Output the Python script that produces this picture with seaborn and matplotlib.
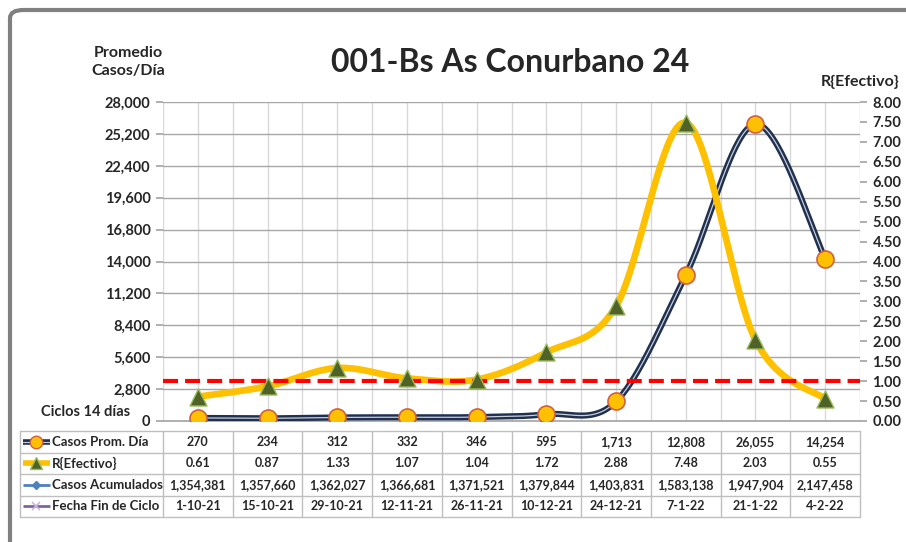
import numpy as np
import pandas as pd
import matplotlib
matplotlib.use("Agg")
import matplotlib.pyplot as plt
import seaborn as sns
from matplotlib.patches import FancyBboxPatch

# ---------------- data ----------------
fechas = ["1-10-21", "15-10-21", "29-10-21", "12-11-21", "26-11-21",
          "10-12-21", "24-12-21", "7-1-22", "21-1-22", "4-2-22"]
casos_prom = [270, 234, 312, 332, 346, 595, 1713, 12808, 26055, 14254]
r_efectivo = [0.61, 0.87, 1.33, 1.07, 1.04, 1.72, 2.88, 7.48, 2.03, 0.55]
casos_acum = [1354381, 1357660, 1362027, 1366681, 1371521,
              1379844, 1403831, 1583138, 1947904, 2147458]
r_umbral = 1.0
left_ticks = [0, 2800, 5600, 8400, 11200, 14000, 16800, 19600, 22400, 25200, 28000]
right_ticks = [i * 0.5 for i in range(17)]

title = "001-Bs As Conurbano 24"

sns.set_theme(style="white")
plt.rcParams['font.family'] = ['Lato', 'DejaVu Sans']

W, H = 906, 542
fig = plt.figure(figsize=(W / 100, H / 100), dpi=100)

def fx(px):
    return px / W

def fy(py):
    return 1 - py / H

# outer rounded frame
frame = FancyBboxPatch((fx(10), fy(560)), fx(920), (560 - 10) / H,
                       boxstyle="round,pad=0,rounding_size=0.015",
                       transform=fig.transFigure, facecolor="white",
                       edgecolor="#808080", linewidth=3, zorder=-5)
fig.patches.append(frame)

L, R, T, B = 163, 860, 102, 421
ax = fig.add_axes([fx(L), fy(B), fx(R - L), (B - T) / H])
ax2 = ax.twinx()

n = len(fechas)
x = np.arange(n)

def catmull(xs, ys, steps=40):
    xs = np.asarray(xs, float); ys = np.asarray(ys, float)
    P = np.column_stack([xs, ys])
    P = np.vstack([P[0], P, P[-1]])
    out = []
    for i in range(1, len(P) - 2):
        p0, p1, p2, p3 = P[i - 1], P[i], P[i + 1], P[i + 2]
        t = np.linspace(0, 1, steps)[:, None]
        c1 = p1 + (p2 - p0) / 6
        c2 = p2 - (p3 - p1) / 6
        seg = ((1 - t) ** 3) * p1 + 3 * ((1 - t) ** 2) * t * c1 + 3 * (1 - t) * t ** 2 * c2 + t ** 3 * p2
        out.append(seg if i == 1 else seg[1:])
    out = np.vstack(out)
    return out[:, 0], out[:, 1]

# axes & grid
ax.set_xlim(-0.5, n - 0.5)
ax.set_ylim(0, 28000)
ax2.set_ylim(0, 8)
ax.set_yticks(left_ticks)
ax.set_yticklabels([f"{v:,}" for v in left_ticks], fontsize=10.5, fontweight="bold")
ax2.set_yticks(right_ticks)
ax2.set_yticklabels([f"{v:.2f}" for v in right_ticks], fontsize=10.5, fontweight="bold")
ax.set_xticks([])
for v in left_ticks[1:]:
    ax.axhline(v, color="#A6A6A6", lw=1, zorder=0.5)
for xv in np.arange(-0.5, n, 0.5):
    ax.axvline(xv, color="#D9D9D9", lw=1, zorder=0.4)
for a in (ax, ax2):
    for s in a.spines.values():
        s.set_visible(False)
ax.spines["bottom"].set_visible(True)
ax.spines["bottom"].set_color("#A6A6A6")
ax.tick_params(axis="y", length=5, color="#A6A6A6", pad=4, left=True)
ax2.tick_params(axis="y", length=5, color="#A6A6A6", pad=4, right=True)

# casos line (navy double)
sx, sy = catmull(x, casos_prom)
df_c = pd.DataFrame({"x": sx, "y": sy})
sns.lineplot(data=df_c, x="x", y="y", ax=ax, color="#1F3050", lw=4.4, sort=False, zorder=3)
sns.lineplot(data=df_c, x="x", y="y", ax=ax, color="#C8CDD6", lw=0.9, sort=False, zorder=3.1)
sns.scatterplot(x=x, y=casos_prom, ax=ax, s=150, color="#FFC000", edgecolor="#D06040",
                linewidth=1.2, zorder=6)

# R line (yellow)
rx, ry = catmull(x, r_efectivo)
df_r = pd.DataFrame({"x": rx, "y": ry})
sns.lineplot(data=df_r, x="x", y="y", ax=ax2, color="#FFC000", lw=4.8, sort=False, zorder=3)
sns.scatterplot(x=x, y=r_efectivo, ax=ax2, s=150, marker="^", color="#4F6228",
                edgecolor="#9BBB59", linewidth=1.0, zorder=5)
ax2.axhline(r_umbral, color="#FF0000", lw=3, ls=(0, (3.6, 1.7)), zorder=4)
ax.set_xlabel(""); ax.set_ylabel(""); ax2.set_xlabel(""); ax2.set_ylabel("")
ax.set_zorder(1); ax2.set_zorder(2)
ax2.patch.set_visible(False)

# texts
fig.text(fx(510), fy(63), title, ha="center", va="center", fontsize=23, fontweight="bold")
fig.text(fx(128), fy(62), "Promedio\nCasos/Día", ha="center", va="center",
         fontsize=11.5, fontweight="bold", linespacing=1.3)
fig.text(fx(860), fy(82), "R{Efectivo}", ha="center", va="center", fontsize=11.5, fontweight="bold")
fig.text(fx(86), fy(412), "Ciclos 14 días", ha="center", va="center", fontsize=10.5, fontweight="bold")

# ---------------- data table ----------------
TL, TT, TB = 20, 431, 517
unit = (R - L) / n
xl = -0.5 - (L - TL) / unit
tax = fig.add_axes([fx(TL), fy(TB), fx(R - TL), (TB - TT) / H])
tax.set_zorder(3)
tax.set_xlim(xl, n - 0.5)
tax.set_ylim(4, 0)
tax.axis("off")
gc = "#BFBFBF"
for yy in range(5):
    tax.plot([xl, n - 0.5], [yy, yy], color=gc, lw=1, clip_on=False)
for xx in [xl] + list(np.arange(-0.5, n, 1.0)):
    tax.plot([xx, xx], [0, 4], color=gc, lw=1, clip_on=False)

rows = [
    ("Casos Prom. Día", [f"{v:,}" for v in casos_prom]),
    ("R{Efectivo}", [f"{v:.2f}" for v in r_efectivo]),
    ("Casos Acumulados", [f"{v:,}" for v in casos_acum]),
    ("Fecha Fin de Ciclo", fechas),
]
for ri, (lab, vals) in enumerate(rows):
    yc = ri + 0.5
    for ci, v in enumerate(vals):
        tax.text(ci, yc, v, ha="center", va="center", fontsize=9, fontweight="bold")
    tax.text(xl + 0.46, yc, lab, ha="left", va="center", fontsize=9.5, fontweight="bold")

kx0, kx1 = xl + 0.04, xl + 0.43
km = (kx0 + kx1) / 2
tax.plot([kx0, kx1], [0.5, 0.5], color="#1F3050", lw=4, solid_capstyle="butt")
tax.plot([kx0, kx1], [0.5, 0.5], color="#C8CDD6", lw=0.8)
tax.plot([km], [0.5], marker="o", ms=9, color="#FFC000", mec="#D06040")
tax.plot([kx0, kx1], [1.5, 1.5], color="#FFC000", lw=4, solid_capstyle="butt")
tax.plot([km], [1.5], marker="^", ms=8, color="#4F6228", mec="#9BBB59")
tax.plot([kx0, kx1], [2.5, 2.5], color="#4F81BD", lw=2, solid_capstyle="butt")
tax.plot([km], [2.5], marker="D", ms=4, color="#4F81BD")
tax.plot([kx0, kx1], [3.5, 3.5], color="#8064A2", lw=2, solid_capstyle="butt")
tax.plot([km], [3.5], marker="x", ms=6, color="#C9B8DC", mew=1.2)

fig.savefig("out.png", dpi=100)
